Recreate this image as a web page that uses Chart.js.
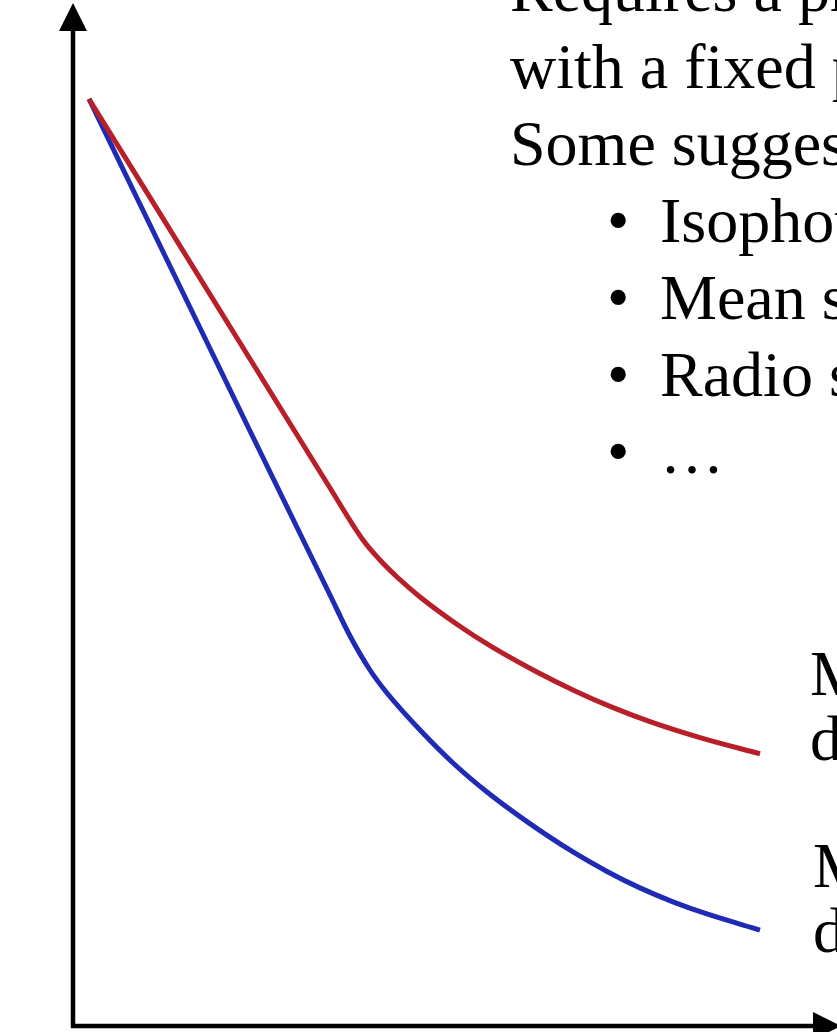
<!DOCTYPE html>
<html>
<head>
<meta charset="utf-8">
<script src="https://cdn.jsdelivr.net/npm/chart.js"></script>
<style>
    html, body { margin: 0; padding: 0; background: #fff; }
    #wrap { position: relative; width: 837px; height: 1032px; overflow: hidden; }
    #curves { position: absolute; left: 0; top: 0; }
    .txt { position: absolute; font-family: "Liberation Serif", "DejaVu Serif", serif; font-size: 64px; color: #000; white-space: nowrap; }
    .notes { left: 510px; top: -49px; line-height: 77px; }
    .notes .item { position: relative; padding-left: 150px; }
    .notes .item .dot { position: absolute; left: 97px; }
    .lab { line-height: 65px; }
</style>
</head>
<body>
<div id="wrap">
    <canvas id="curves" width="837" height="1032"></canvas>

    <div class="txt notes">
        <div>Requires a photometric system</div>
        <div>with a fixed passband</div>
        <div>Some suggestions:</div>
        <div class="item"><span class="dot">•</span>Isophotal diameter</div>
        <div class="item"><span class="dot">•</span>Mean surface brightness</div>
        <div class="item"><span class="dot">•</span>Radio size</div>
        <div class="item"><span class="dot">•</span>…</div>
    </div>

    <div class="txt lab" style="left:810px; top:641px;">Magnitude<br>distribution</div>
    <div class="txt lab" style="left:813px; top:833px;">Magnitude<br>distribution</div>
</div>

<script>
    // ==============================
    // Datos de las curvas (unidades del eje, 0-100)
    // ==============================
    var redX  = [2.09, 23.17, 33.64, 37.96, 40.18, 42.41, 45.42, 50.39, 54.84, 60.47, 65.71, 70.29, 75.52, 82.07, 89.92];
    var redY  = [90.62, 65.20, 52.59, 47.51, 45.55, 43.89, 41.94, 39.20, 37.05, 34.70, 32.75, 31.24, 29.75, 28.19, 26.61];

    var blueX = [2.09, 23.17, 33.64, 36.26, 38.87, 41.10, 45.42, 49.74, 54.19, 59.42, 65.45, 69.90, 74.21, 78.53, 82.98, 89.92];
    var blueY = [90.62, 58.16, 42.13, 38.12, 34.80, 32.55, 28.93, 25.71, 22.87, 19.98, 17.01, 15.11, 13.50, 12.14, 10.95, 9.38];

    function toPoints(xs, ys) {
        return xs.map(function (x, i) { return { x: x, y: ys[i] }; });
    }

    // ==============================
    // Ejes con flechas
    // ==============================
    var arrowAxes = {
        id: "arrowAxes",
        afterDraw: function (chart) {
            var ctx = chart.ctx;
            var xs = chart.scales.x, ys = chart.scales.y;
            var x0 = xs.getPixelForValue(0);
            var y0 = ys.getPixelForValue(0);
            var top = chart.chartArea.top;
            var right = chart.chartArea.right;
            var head = 28, half = 14;

            ctx.save();
            ctx.strokeStyle = "#000";
            ctx.fillStyle = "#000";
            ctx.lineWidth = 4.5;

            ctx.beginPath();
            ctx.moveTo(x0, y0 + 2);
            ctx.lineTo(x0, top + head);
            ctx.moveTo(x0 - 2, y0);
            ctx.lineTo(right + 4 - head, y0);
            ctx.stroke();

            ctx.beginPath();
            ctx.moveTo(x0, top);
            ctx.lineTo(x0 - half, top + head);
            ctx.lineTo(x0 + half, top + head);
            ctx.closePath();
            ctx.fill();

            ctx.beginPath();
            ctx.moveTo(right + 4, y0);
            ctx.lineTo(right + 4 - head, y0 - half);
            ctx.lineTo(right + 4 - head, y0 + half);
            ctx.closePath();
            ctx.fill();
            ctx.restore();
        }
    };

    var ctxCurves = document.getElementById("curves").getContext("2d");
    var curvesChart = new Chart(ctxCurves, {
        type: "line",
        data: {
            datasets: [{
                label: "red",
                data: toPoints(redX, redY),
                borderColor: "#B81F29",
                borderWidth: 5,
                pointRadius: 0,
                cubicInterpolationMode: "monotone",
                fill: false
            }, {
                label: "blue",
                data: toPoints(blueX, blueY),
                borderColor: "#1F2BB5",
                borderWidth: 5,
                pointRadius: 0,
                cubicInterpolationMode: "monotone",
                fill: false
            }]
        },
        options: {
            responsive: false,
            animation: false,
            layout: { padding: { left: 73, top: 3, right: 0, bottom: 6 } },
            plugins: {
                legend: { display: false },
                tooltip: { enabled: false }
            },
            scales: {
                x: { type: "linear", min: 0, max: 100, display: false },
                y: { type: "linear", min: 0, max: 100, display: false }
            }
        },
        plugins: [arrowAxes]
    });
</script>
</body>
</html>
